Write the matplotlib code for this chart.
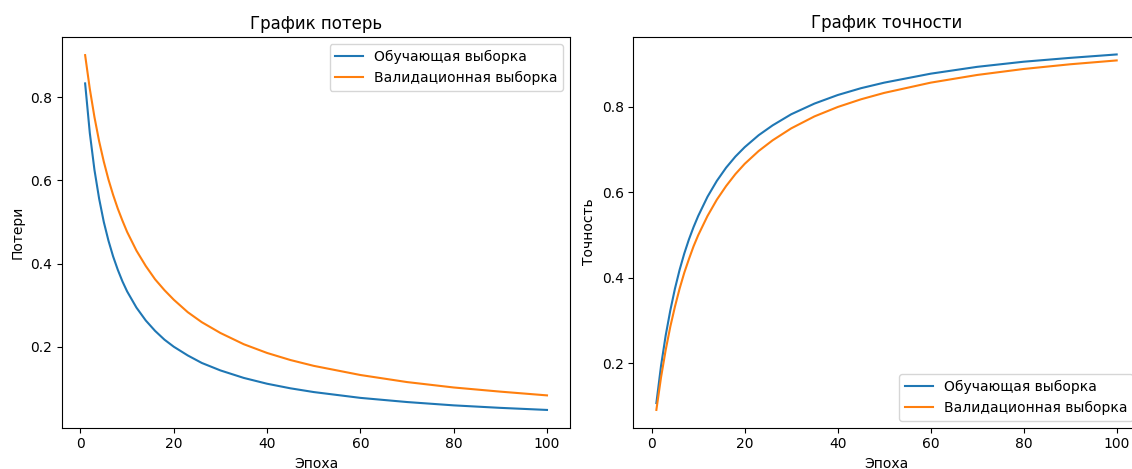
#!/usr/bin/env python

"""
 Training curves: loss and accuracy vs epoch
"""
import matplotlib as mpl
mpl.use('Agg')
import matplotlib.pyplot as plt


#######################
#
# Data

epochs = [1, 2, 3, 4, 5, 6, 7, 8, 9, 10, 12, 14, 16, 18, 20, 23, 26, 30,
          35, 40, 45, 50, 60, 70, 80, 90, 100]

train_loss = [0.833, 0.714, 0.625, 0.556, 0.500, 0.455, 0.417, 0.385, 0.357,
              0.333, 0.294, 0.263, 0.238, 0.217, 0.200, 0.179, 0.161, 0.143,
              0.125, 0.111, 0.100, 0.091, 0.077, 0.067, 0.059, 0.053, 0.048]
val_loss = [0.901, 0.820, 0.752, 0.694, 0.645, 0.602, 0.565, 0.532, 0.503,
            0.476, 0.431, 0.394, 0.362, 0.336, 0.313, 0.283, 0.259, 0.233,
            0.206, 0.185, 0.168, 0.154, 0.132, 0.115, 0.102, 0.092, 0.083]

train_acc = [0.107, 0.194, 0.265, 0.324, 0.375, 0.419, 0.457, 0.490, 0.519,
             0.545, 0.590, 0.627, 0.658, 0.684, 0.706, 0.734, 0.757, 0.783,
             0.808, 0.828, 0.844, 0.857, 0.878, 0.894, 0.906, 0.915, 0.923]
val_acc = [0.091, 0.167, 0.231, 0.286, 0.333, 0.375, 0.412, 0.444, 0.474,
           0.500, 0.545, 0.583, 0.615, 0.643, 0.667, 0.697, 0.722, 0.750,
           0.778, 0.800, 0.818, 0.833, 0.857, 0.875, 0.889, 0.900, 0.909]

train_label = 'Обучающая выборка'
val_label = 'Валидационная выборка'


#######################
#
# Plots

fig = plt.figure(figsize=(11.32, 4.69), dpi=100)

### loss
ax1 = fig.add_axes([0.0548, 0.0881, 0.4488, 0.8322])
ax1.plot(epochs, train_loss, color='#1f77b4', lw=1.5, label=train_label)
ax1.plot(epochs, val_loss, color='#ff7f0e', lw=1.5, label=val_label)
ax1.set_title('График потерь')
ax1.set_xlabel('Эпоха')
ax1.set_ylabel('Потери')
ax1.set_yticks([0.2, 0.4, 0.6, 0.8])
ax1.legend(loc='upper right')

### accuracy (right edge of this panel is cut off in the reference)
ax2 = fig.add_axes([0.5595, 0.0881, 0.4473, 0.8337])
ax2.plot(epochs, train_acc, color='#1f77b4', lw=1.5, label=train_label)
ax2.plot(epochs, val_acc, color='#ff7f0e', lw=1.5, label=val_label)
ax2.set_title('График точности')
ax2.set_xlabel('Эпоха')
ax2.set_ylabel('Точность')
ax2.set_yticks([0.2, 0.4, 0.6, 0.8])
ax2.legend(loc='lower right')

plt.savefig('out.png', dpi=100)
plt.close()
